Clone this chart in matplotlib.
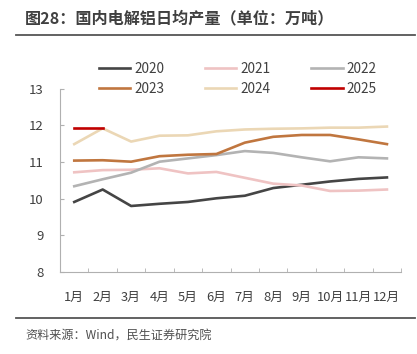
import matplotlib
matplotlib.use("Agg")
import matplotlib.pyplot as plt
import numpy as np

plt.rcParams['font.family'] = ['Noto Sans CJK SC', 'DejaVu Sans']

months = ['1月', '2月', '3月', '4月', '5月', '6月', '7月', '8月', '9月', '10月', '11月', '12月']
y2020 = [9.91, 10.25, 9.80, 9.86, 9.91, 10.01, 10.08, 10.29, 10.38, 10.47, 10.54, 10.58]
y2021 = [10.72, 10.78, 10.79, 10.83, 10.69, 10.73, 10.57, 10.41, 10.36, 10.21, 10.22, 10.25]
y2022 = [10.34, 10.53, 10.71, 11.01, 11.10, 11.19, 11.30, 11.25, 11.13, 11.02, 11.13, 11.10]
y2023 = [11.04, 11.05, 11.01, 11.16, 11.20, 11.22, 11.53, 11.69, 11.74, 11.74, 11.62, 11.49]
y2024 = [11.49, 11.92, 11.56, 11.72, 11.73, 11.84, 11.89, 11.91, 11.92, 11.94, 11.94, 11.97]
y2025 = [11.93, 11.93]

series = [('2020', y2020, '#454545'), ('2021', y2021, '#efc3c3'),
          ('2022', y2022, '#b3b3b3'), ('2023', y2023, '#c0763f'),
          ('2024', y2024, '#ebd7b5'), ('2025', y2025, '#c00000')]

fig = plt.figure(figsize=(4.17, 3.54), dpi=100)
ax = fig.add_axes([0.144, 0.232, 0.818, 0.517])

lines = {}
for name, vals, col in series:
    lines[name], = ax.plot(np.arange(len(vals)), vals, color=col, lw=1.9, label=name)

ax.set_xlim(-0.5, 11.5)
ax.set_ylim(8, 13)
ax.set_yticks([8, 9, 10, 11, 12, 13])
ax.set_xticks(np.arange(12))
ax.set_xticklabels(months)
ax.set_xticks(np.arange(-0.5, 12, 1), minor=True)
ax.tick_params(axis='x', which='major', length=0, pad=14, labelsize=9.3, colors='#404040')
ax.tick_params(axis='x', which='minor', direction='in', length=3, color='#b0b0b0')
ax.tick_params(axis='y', direction='in', length=3, color='#b0b0b0', labelsize=9.5,
               labelcolor='#404040', pad=12)
for s in ['top', 'right']:
    ax.spines[s].set_visible(False)
for s in ['left', 'bottom']:
    ax.spines[s].set_color('#b0b0b0')
    ax.spines[s].set_linewidth(0.8)

# legend fills column by column, so reorder to get rows 2020-2022 / 2023-2025
order = ['2020', '2023', '2021', '2024', '2022', '2025']
fig.legend([lines[k] for k in order], order, loc='center', bbox_to_anchor=(0.57, 0.778),
           ncol=3, frameon=False, fontsize=9.8, handlelength=2.3, columnspacing=3.0,
           labelspacing=0.45, handletextpad=0.3, labelcolor='#404040')

fig.text(0.06, 0.949, '图28：国内电解铝日均产量（单位：万吨）', fontsize=11.6, fontweight='bold',
         color='#404040', va='center')
fig.add_artist(plt.Line2D([0.038, 0.995], [0.901, 0.901], color='#555555', lw=1.3))
fig.add_artist(plt.Line2D([0.038, 0.995], [0.101, 0.101], color='#555555', lw=1.3))
fig.text(0.06, 0.051, '资料来源：Wind，民生证券研究院', fontsize=8.7, color='#505050', va='center')

fig.savefig('out.png', dpi=100)
